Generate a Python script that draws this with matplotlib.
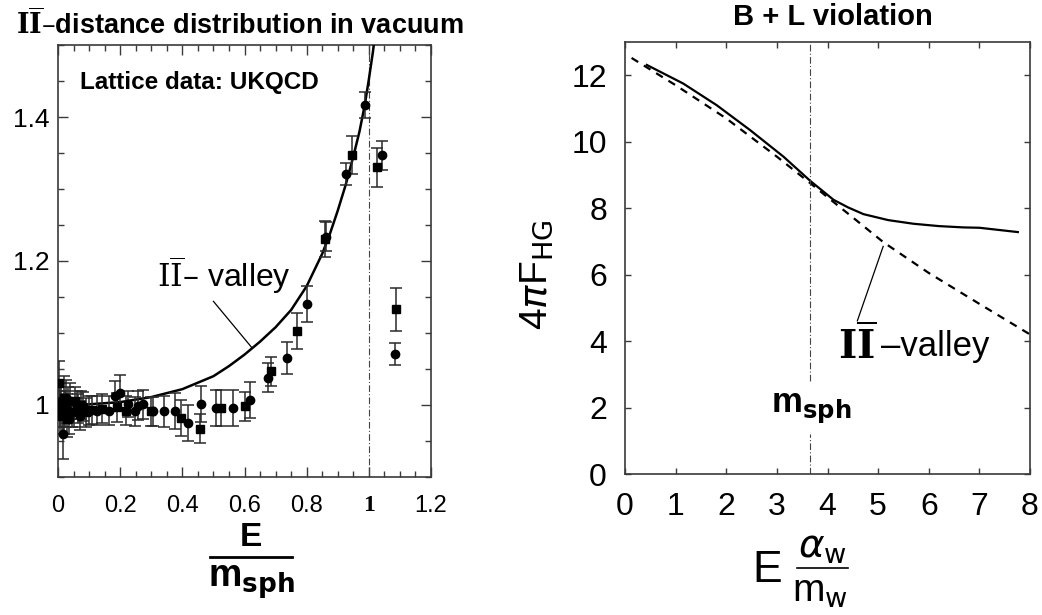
import numpy as np
import matplotlib
matplotlib.use('Agg')
import matplotlib.pyplot as plt
from matplotlib.ticker import MultipleLocator, FixedLocator
from matplotlib.lines import Line2D

plt.rcParams['font.family'] = ['Liberation Sans', 'DejaVu Sans']
plt.rcParams['mathtext.fontset'] = 'dejavusans'

# left panel: I-Ibar valley curve and UKQCD lattice data
valley_x = [0, 0.1, 0.2, 0.3, 0.4, 0.5, 0.55, 0.6, 0.65, 0.7, 0.75, 0.8, 0.85, 0.875, 0.9, 0.925,
            0.95, 0.97, 0.987, 1.0, 1.013, 1.03]
valley_y = [1.0, 1.001, 1.004, 1.011, 1.022, 1.04, 1.054, 1.07, 1.088, 1.108, 1.132, 1.165, 1.21,
            1.238, 1.27, 1.305, 1.345, 1.38, 1.417, 1.452, 1.49, 1.55]

circ_x = [0.005, 0.01, 0.016, 0.02, 0.025, 0.03, 0.035, 0.04, 0.05, 0.06, 0.07, 0.08, 0.1, 0.127,
          0.165, 0.184, 0.2, 0.224, 0.248, 0.256, 0.275, 0.306, 0.34, 0.376, 0.417, 0.46, 0.508,
          0.562, 0.618, 0.675, 0.737, 0.801, 0.863, 0.928, 0.987, 1.041, 1.084]
circ_y = [0.99, 1.005, 0.960, 0.985, 1.01, 0.995, 0.98, 1.005, 0.99, 1.0, 0.985, 0.998, 0.992, 0.992,
          0.992, 1.013, 1.017, 1.001, 0.991, 0.999, 1.001, 0.991, 0.991, 0.991, 0.975, 1.001, 0.996,
          0.996, 1.007, 1.038, 1.065, 1.14, 1.234, 1.321, 1.417, 1.347, 1.071]
circ_err = [0.03, 0.025, 0.035, 0.025, 0.025, 0.02, 0.02, 0.025, 0.02, 0.02, 0.02, 0.02, 0.02, 0.02,
            0.02, 0.02, 0.025, 0.018, 0.02, 0.02, 0.02, 0.02, 0.022, 0.025, 0.025, 0.025, 0.025,
            0.025, 0.025, 0.02, 0.022, 0.025, 0.02, 0.015, 0.018, 0.02, 0.015]

sq_x = [0.003, 0.008, 0.012, 0.018, 0.022, 0.028, 0.033, 0.045, 0.055, 0.065, 0.075, 0.09, 0.11,
        0.14, 0.19, 0.22, 0.299, 0.396, 0.457, 0.525, 0.6, 0.684, 0.77, 0.86, 0.947, 1.027, 1.089]
sq_y = [1.031, 1.0, 0.985, 1.01, 0.995, 0.98, 1.005, 0.99, 1.005, 0.995, 1.0, 0.99, 0.993,
        0.995, 0.997, 0.992, 0.991, 0.982, 0.967, 0.996, 0.998, 1.047, 1.103, 1.231, 1.347, 1.33, 1.133]
sq_err = [0.03, 0.03, 0.025, 0.03, 0.025, 0.025, 0.02, 0.02, 0.02, 0.02, 0.02, 0.02, 0.02,
          0.02, 0.02, 0.02, 0.02, 0.025, 0.02, 0.025, 0.02, 0.02, 0.025, 0.025, 0.026, 0.027, 0.03]

left_xticks = [0, 0.2, 0.4, 0.6, 0.8, 1, 1.2]
left_xlabels = ['0', '0.2', '0.4', '0.6', '0.8', '1', '1.2']
left_yticks = [1.0, 1.2, 1.4]
left_ylabels = ['1', '1.2', '1.4']

# right panel: B+L violation, holy grail function
full_x = [0.43, 1.15, 1.81, 2.47, 3.13, 3.66, 4.12, 4.41, 4.71, 5.2, 5.7, 6.2, 6.69, 7.0, 7.41, 7.76]
full_y = [12.31, 11.75, 11.1, 10.35, 9.55, 8.82, 8.25, 8.02, 7.82, 7.64, 7.53, 7.46, 7.42, 7.41, 7.34, 7.28]
valley2_x = [0.13, 1.0, 2.0, 3.0, 3.66, 4.0, 4.5, 5.1, 6.0, 7.0, 8.0]
valley2_y = [12.52, 11.7, 10.7, 9.55, 8.75, 8.33, 7.72, 6.98, 6.05, 5.12, 4.2]
m_sph_pos = 3.66

W, H = 1042, 615
fig = plt.figure(figsize=(W / 100, H / 100), dpi=100)
frame_col = '#3a3a3a'

# ---------------- left panel ----------------
ax1 = fig.add_axes([58 / W, 1 - 477 / H, 373 / W, 432 / H])
ax1.set_xlim(0, 1.2)
ax1.set_ylim(0.9, 1.5)
ax1.plot(valley_x, valley_y, color='black', lw=1.8, zorder=3)
ax1.errorbar(circ_x, circ_y, yerr=circ_err, fmt='o', ms=6, color='black', ecolor='#2a2a2a',
             elinewidth=1.1, capsize=4.5, capthick=1.1, zorder=4)
ax1.errorbar(sq_x, sq_y, yerr=sq_err, fmt='s', ms=5.2, color='black', ecolor='#2a2a2a',
             elinewidth=1.1, capsize=4.5, capthick=1.1, zorder=4)
ax1.axvline(1.0, color='#444444', lw=0.8, ls=(0, (6, 2, 1, 2)), zorder=2)

ax1.xaxis.set_major_locator(FixedLocator(left_xticks))
ax1.set_xticklabels(left_xlabels, fontsize=17)
ax1.xaxis.set_minor_locator(MultipleLocator(0.05))
ax1.yaxis.set_major_locator(FixedLocator(left_yticks))
ax1.set_yticklabels(left_ylabels, fontsize=19)
ax1.yaxis.set_minor_locator(MultipleLocator(0.05))
for lab in ax1.get_xticklabels():
    if lab.get_text() == '1':
        lab.set_fontfamily('Liberation Serif')
        lab.set_fontweight('bold')
ax1.tick_params(which='both', direction='in', top=True, right=True, color=frame_col)
ax1.tick_params(which='major', length=7, width=1)
ax1.tick_params(which='minor', length=4, width=1)
ax1.tick_params(axis='x', pad=13)
ax1.tick_params(axis='y', pad=6)
for s in ax1.spines.values():
    s.set_color(frame_col)
    s.set_linewidth(1.2)

ax1.text(0.071, 1.448, 'Lattice data: UKQCD', fontsize=17.5, fontweight='bold', va='center')
ax1.text(0.32, 1.181, r'$\mathrm{I\overline{I}}$' + '\u2013 valley', fontsize=23, va='center',
         math_fontfamily='dejavuserif')
ax1.plot([0.50, 0.623], [1.144, 1.08], color='black', lw=0.9)

fig.text(240 / W, 1 - 24 / H, r'$\mathbf{I\overline{I}}$' + '\u2013distance distribution in vacuum',
         ha='center', va='center', fontsize=19.5, fontweight='bold', math_fontfamily='dejavuserif')

# fraction label E / m_sph
fig.text(251 / W, 1 - 538 / H, 'E', ha='center', va='center', fontsize=24, fontweight='bold')
fig.add_artist(Line2D([210 / W, 292 / W], [1 - 557 / H, 1 - 557 / H], color='black', lw=2))
fig.text(251 / W, 1 - 582 / H, r'm$_{\mathbf{sph}}$', ha='center', va='center', fontsize=27,
         fontweight='bold')

# ---------------- right panel ----------------
ax2 = fig.add_axes([625 / W, 1 - 474 / H, 405 / W, 432 / H])
ax2.set_xlim(0, 8)
ax2.set_ylim(0, 13)
ax2.plot(full_x, full_y, color='black', lw=1.6)
ax2.plot(valley2_x, valley2_y, color='black', lw=1.6, dashes=(3.5, 3))
ax2.plot([m_sph_pos, m_sph_pos], [2.8, 13], color='#444444', lw=0.8, ls=(0, (6, 2, 1, 2)))
ax2.plot([m_sph_pos, m_sph_pos], [0, 1.2], color='#444444', lw=0.8, ls=(0, (6, 2, 1, 2)))
ax2.text(m_sph_pos + 0.02, 1.95, r'm$_{\mathbf{sph}}$', ha='center', va='center', fontsize=25,
         fontweight='bold')
ax2.plot([5.10, 4.59], [6.85, 4.61], color='black', lw=0.9)
ax2.text(4.2, 3.85, r'$\mathbf{I\overline{I}}$', fontsize=28, va='center',
         math_fontfamily='dejavuserif')
ax2.text(5.05, 3.85, '\u2013valley', fontsize=25, va='center')

ax2.xaxis.set_major_locator(MultipleLocator(1))
ax2.yaxis.set_major_locator(MultipleLocator(2))
ax2.tick_params(which='both', direction='in', top=True, right=True, color=frame_col,
                labelsize=23, length=4, width=1)
ax2.tick_params(axis='x', pad=13)
ax2.tick_params(axis='y', pad=13)
for s in ax2.spines.values():
    s.set_color(frame_col)
    s.set_linewidth(1.2)

fig.text(833 / W, 1 - 17 / H, 'B + L violation', ha='center', va='center', fontsize=21,
         fontweight='bold')
fig.text(537 / W, 1 - 275 / H, r'4$\pi$F$_{\mathrm{HG}}$', rotation=90, ha='center',
         va='center', fontsize=28)

# x label: E alpha_w / m_w
fig.text(767 / W, 1 - 570 / H, 'E', ha='center', va='center', fontsize=32)
fig.text(822 / W, 1 - 548 / H, r'$\alpha_{\mathrm{w}}$', ha='center', va='center', fontsize=28)
fig.add_artist(Line2D([797 / W, 848 / W], [1 - 568 / H, 1 - 568 / H], color='black', lw=1.2))
fig.text(820 / W, 1 - 592 / H, r'm$_{\mathrm{w}}$', ha='center', va='center', fontsize=28)

fig.savefig('out.png', dpi=100)
